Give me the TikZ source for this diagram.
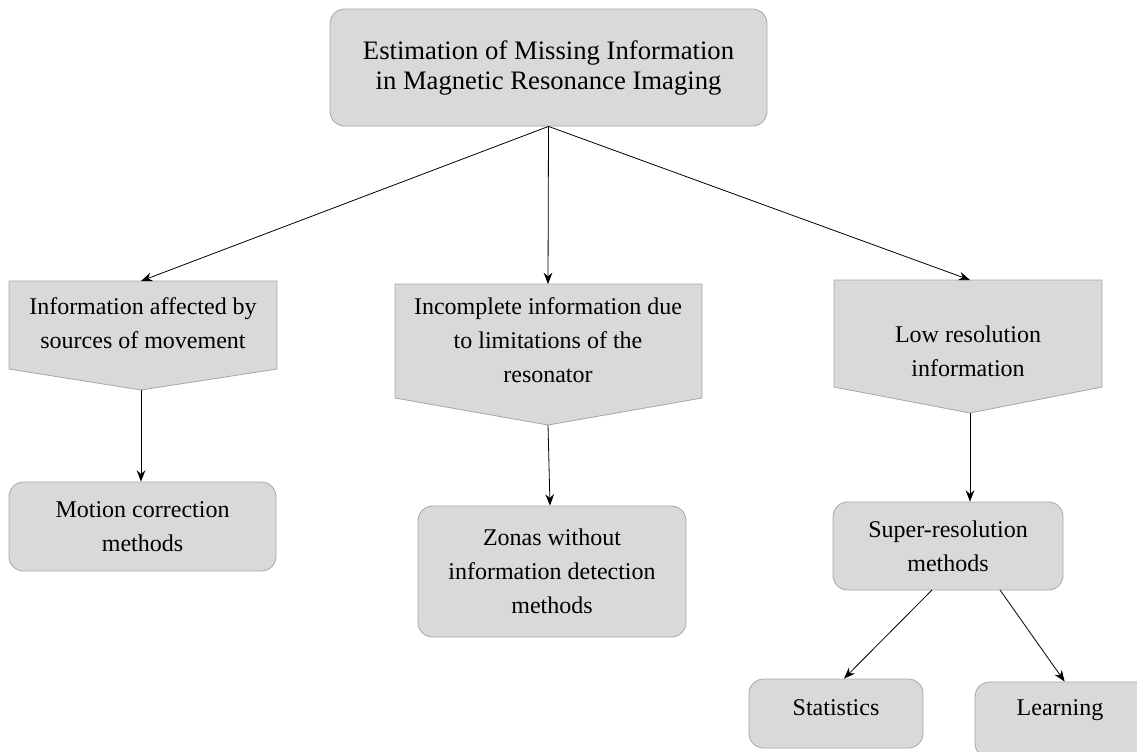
\documentclass[tikz,border=0pt]{standalone}
\usepackage{fontspec}
\setmainfont{Liberation Serif}
\usetikzlibrary{arrows.meta}
\definecolor{boxfill}{HTML}{D9D9D9}
\definecolor{boxline}{HTML}{A6A6A6}
\tikzset{
  rbox/.style={draw=boxline, fill=boxfill, line width=0.6pt, rounded corners=11pt, align=center, inner sep=0pt, font=\fontsize{18}{25.5}\selectfont},
  pent/.style={draw=boxline, fill=boxfill, line width=0.6pt},
  lbl/.style={align=center, inner sep=0pt, font=\fontsize{18}{25.5}\selectfont},
  conn/.style={-{Stealth[length=8.5pt,width=6.5pt]}, line width=0.6pt, black}
}
\begin{document}
\begin{tikzpicture}[x=0.75pt,y=-0.75pt]
\useasboundingbox (0,0) rectangle (1137,751);

% title
\node[rbox, minimum width=437*0.75pt, minimum height=117*0.75pt, font=\fontsize{20}{22.5}\selectfont] (top) at (548.5,67.5) {Estimation of Missing Information\\in Magnetic Resonance Imaging};

% pentagons
\path[pent] (9,281) -- (277,281) -- (277,369) -- (141,390) -- (9,369) -- cycle;
\node[lbl] (p1) at (143,323) {Information affected by\\sources of movement};
\coordinate (p1t) at (141,281);
\coordinate (p1b) at (141,390);

\path[pent] (395,284) -- (702,284) -- (702,398) -- (548,425) -- (395,398) -- cycle;
\node[lbl] (p2) at (548,340) {Incomplete information due\\to limitations of the\\resonator};
\coordinate (p2t) at (548,284);
\coordinate (p2b) at (548,425);

\path[pent] (834,280) -- (1102,280) -- (1102,387) -- (970,413) -- (834,387) -- cycle;
\node[lbl] (p3) at (968,351) {Low resolution\\information};
\coordinate (p3t) at (970,280);
\coordinate (p3b) at (970,413);

% second level
\node[rbox, minimum width=267*0.75pt, minimum height=89*0.75pt] (m1) at (142.5,526.5) {Motion correction\\methods};
\node[rbox, minimum width=268*0.75pt, minimum height=131*0.75pt] (m2) at (552,571.5) {Zonas without\\information detection\\methods};
\node[rbox, minimum width=230*0.75pt, minimum height=88*0.75pt] (m3) at (948,546) {Super-resolution\\methods};

% third level
\node[rbox, minimum width=174*0.75pt, minimum height=69*0.75pt] (s1) at (836,713.5) {};
\node[lbl] (s1t) at (836,708) {Statistics};
\node[rbox, minimum width=190*0.75pt, minimum height=76*0.75pt] (s2) at (1070,720) {};
\node[lbl] (s2t) at (1060,710) {Learning};

% connectors
\draw[conn] (top.south) -- (p1t);
\draw[conn] (top.south) -- (p2t);
\draw[conn] (top.south) -- (p3t);
\draw[conn] (p1b) -- (p1b |- m1.north);
\draw[conn] (p2b) -- ([xshift=1.5pt]p2b |- m2.north);
\draw[conn] (p3b) -- (p3b |- m3.north);
\coordinate (m3a) at (932,590);
\coordinate (m3b) at (1000,590);
\draw[conn] (m3a) -- ([xshift=6pt]s1.north);
\draw[conn] (m3b) -- ([xshift=-4pt]s2.north);
\end{tikzpicture}
\end{document}
